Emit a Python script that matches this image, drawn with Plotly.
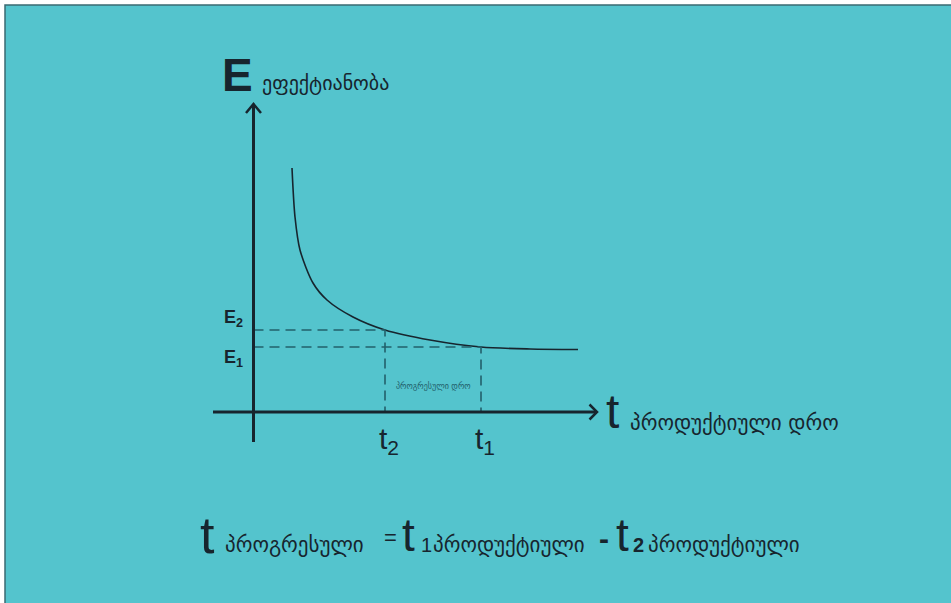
"""
Efficiency vs productive time diagram (Georgian labels), redrawn with plotly.
"""
import plotly.graph_objects as go

# curve values (t in axis units, E in axis units)
t_curve = [0.385, 0.415, 0.465, 0.595, 0.735, 0.995, 1.315, 1.765, 2.275,
           2.765, 3.245]
e_curve = [2.44, 1.95, 1.62, 1.29, 1.12, 0.95, 0.82, 0.72, 0.65, 0.63,
           0.625]

# marked points
t_marks = [1.315, 2.275]   # t2, t1
e_marks = [0.82, 0.65]     # E2, E1
t_labels = ['t<sub>2</sub>', 't<sub>1</sub>']
e_labels = ['<b>E<sub>2</sub></b>', '<b>E<sub>1</sub></b>']

# texts
y_title = 'ეფექტიანობა'
x_title = 'პროდუქტიული დრო'
gap_label = 'პროგრესული დრო'
word_prog = 'პროგრესული'
word_prod = 'პროდუქტიული'

BG = '#54c4cd'
INK = '#17252e'
DASH = '#22606b'
LAT = 'Liberation Sans, Arial, sans-serif'
GEO = 'DejaVu Sans, sans-serif'


def add_text(fig, x, y, text, size, font=LAT, anchor='left', color=INK):
    fig.add_annotation(x=x, y=y, text=text, showarrow=False,
                       xanchor=anchor, yanchor='middle',
                       font=dict(family=font, size=size, color=color))


def build():
    fig = go.Figure()

    # curve
    fig.add_trace(go.Scatter(x=t_curve, y=e_curve, mode='lines',
                             line=dict(color=INK, width=1.6, shape='spline',
                                       smoothing=0.8),
                             hoverinfo='skip'))

    # dashed guides for E2/t2 and E1/t1
    for t, e in zip(t_marks, e_marks):
        fig.add_trace(go.Scatter(x=[0, t, t], y=[e, e, 0], mode='lines',
                                 line=dict(color=DASH, width=1.6,
                                           dash='10px,6px'),
                                 hoverinfo='skip'))

    # axes with open arrowheads
    line = dict(color=INK, width=3)
    fig.add_shape(type='line', x0=0, x1=0, y0=-0.30, y1=3.07, line=line)
    fig.add_shape(type='line', x0=-0.405, x1=3.42, y0=0, y1=0, line=line)
    fig.add_shape(type='path', path='M -0.075,2.99 L 0,3.08 L 0.075,2.99',
                  line=dict(color=INK, width=2.5))
    fig.add_shape(type='path', path='M 3.36,0.075 L 3.435,0 L 3.36,-0.075',
                  line=dict(color=INK, width=2.5))

    # axis labels
    add_text(fig, -0.165, 3.37, '<b>E</b>', 46, anchor='center')
    add_text(fig, 0.06, 3.29, y_title, 20, GEO)
    add_text(fig, 3.50, 0.01, 't', 48)
    add_text(fig, 3.74, -0.11, x_title, 21, GEO)

    for t, lab in zip(t_marks, t_labels):
        add_text(fig, t - 0.085, -0.28, lab, 30)
    for e, lab in zip(e_marks, e_labels):
        add_text(fig, -0.315, e + (0.12 if e > 0.7 else -0.11), lab, 18)

    add_text(fig, (t_marks[0] + t_marks[1]) / 2, 0.26, gap_label, 8,
             GEO, anchor='center', color=DASH)

    # formula at the bottom
    add_text(fig, -0.56, -1.23, 't', 52)
    add_text(fig, -0.305, -1.33, word_prog, 21, GEO)
    add_text(fig, 1.28, -1.25, '=', 22)
    add_text(fig, 1.46, -1.23, 't', 46)
    add_text(fig, 1.655, -1.33, '1', 20)
    add_text(fig, 1.775, -1.33, word_prod, 21, GEO)
    add_text(fig, 3.43, -1.26, '<b>-</b>', 30)
    add_text(fig, 3.60, -1.23, 't', 46)
    add_text(fig, 3.77, -1.33, '<b>2</b>', 20)
    add_text(fig, 3.92, -1.33, word_prod, 21, GEO)

    # teal panel with a thin dark frame on top/left
    fig.add_shape(type='rect', xref='paper', yref='paper',
                  x0=5 / 951, x1=1.02, y0=-0.02, y1=1 - 5 / 603,
                  fillcolor=BG, line=dict(color='#3a6a72', width=1.5),
                  layer='below')

    fig.update_layout(width=951, height=603,
                      margin=dict(l=0, r=0, t=0, b=0),
                      paper_bgcolor='white', plot_bgcolor='rgba(0,0,0,0)',
                      showlegend=False,
                      xaxis=dict(range=[-2.535, 6.975], visible=False,
                                 fixedrange=True),
                      yaxis=dict(range=[-1.91, 4.12], visible=False,
                                 fixedrange=True))
    return fig


def main():
    fig = build()
    # drop the browser's default body margin so the figure sits at 0,0
    fig.write_html('out.html', config={'displayModeBar': False},
                   post_script="document.body.style.margin='0px';")


if __name__ == '__main__':
    main()
